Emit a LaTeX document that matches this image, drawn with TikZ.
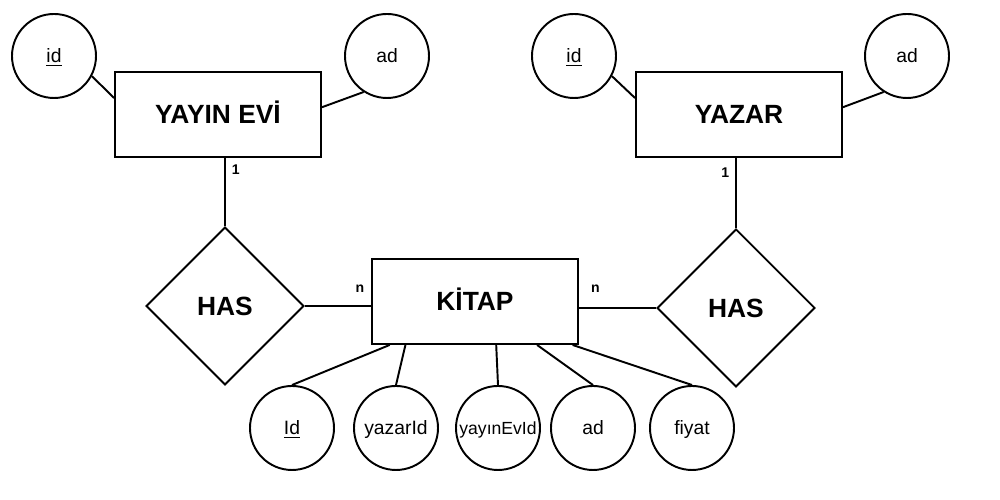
\documentclass[tikz,border=0pt]{standalone}
\usepackage{fontspec}
\setmainfont{Liberation Sans}
\usepackage{tikz}
\usetikzlibrary{shapes.geometric}
\tikzset{entity/.style = {draw, minimum width=4.12cm, minimum height=1.7cm,
                          text height=13.6pt, text depth=3.2pt,
                          font=\fontsize{15}{18}\selectfont\bfseries}}
\tikzset{relation/.style = {draw, diamond, aspect=1, inner sep=0pt,
                            minimum width=3.16cm, minimum height=3.16cm,
                            text height=13.6pt, text depth=3.2pt,
                            font=\fontsize{15}{18}\selectfont\bfseries}}
\tikzset{attrib/.style = {draw, circle, inner sep=0pt, minimum size=1.68cm,
                          text height=9.6pt, text depth=2.4pt,
                          font=\fontsize{11}{13}\selectfont}}
\tikzset{card/.style = {font=\fontsize{8}{10}\selectfont\bfseries}}

\begin{document}
\begin{tikzpicture}[line width=1.1pt]
    \useasboundingbox (0, 0) rectangle (20, 10);

    \node [entity] (yev) at (4.36, 7.71) {YAYIN EVİ};
    \node [entity] (yazar) at (14.78, 7.71) {YAZAR};
    \node [entity] (kitap) at (9.5, 3.97) {KİTAP};

    \node [relation] (has1) at (4.5, 3.88) {HAS};
    \node [relation] (has2) at (14.72, 3.84) {HAS};

    \node [attrib] (yevid) at (1.08, 8.88) {\underline{id}};
    \node [attrib] (yevad) at (7.74, 8.88) {ad};
    \node [attrib] (yazarid) at (11.48, 8.88) {\underline{id}};
    \node [attrib] (yazarad) at (18.14, 8.88) {ad};

    \node [attrib] (kid) at (5.84, 1.44) {\underline{Id}};
    \node [attrib] (kyazarid) at (7.92, 1.44) {yazarId};
    \node [attrib, font=\fontsize{10}{12}\selectfont] (kyevid) at (9.96, 1.44) {yayınEvId};
    \node [attrib] (kad) at (11.86, 1.44) {ad};
    \node [attrib] (kfiyat) at (13.84, 1.44) {fiyat};

    \draw (yevid.-28) -- (yev.171);
    \draw (yevad.-123) -- (yev.4);
    \draw (yazarid.-28) -- (yazar.171);
    \draw (yazarad.-123) -- (yazar.4);

    \draw (has1.north) -- (has1 |- yev.south) node [card, anchor=north west] {1};
    \draw (has2.north) -- (has2 |- yazar.south) node [card, anchor=north east, yshift=-2pt] {1};

    \draw (has1.east) -- (has1.east -| kitap.west) node [card, anchor=south east, yshift=4pt] {n};
    \draw (kitap.east |- has2.west) node [card, anchor=south west, xshift=3pt, yshift=5pt] {n} -- (has2.west);

    \draw (kitap.-153) -- (kid.north);
    \draw (kitap.-148) -- (kyazarid.north);
    \draw (kitap.-64) -- (kyevid.north);
    \draw (kitap.-35) -- (kad.north);
    \draw (kitap.-24) -- (kfiyat.north);
\end{tikzpicture}
\end{document}
